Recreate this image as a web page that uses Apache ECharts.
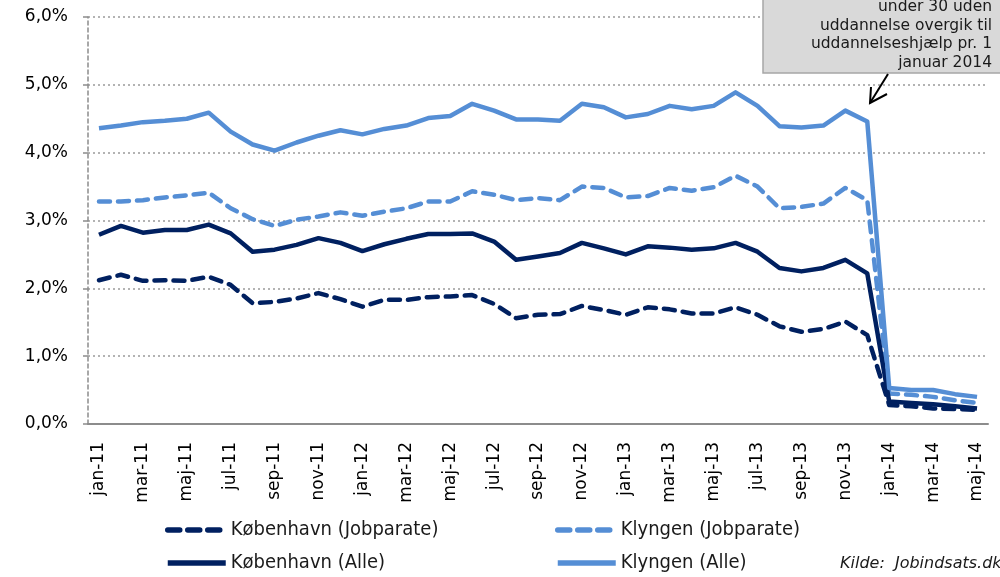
<!DOCTYPE html>
<html>
<head>
<meta charset="utf-8">
<script src="https://cdn.jsdelivr.net/npm/echarts@6/dist/echarts.min.js"></script>
<style>
  html, body { margin: 0; padding: 0; background: #fff; }
  #chart { width: 1000px; height: 577px; }
</style>
</head>
<body>
<div id="chart"></div>
<script>
const months = [
  'jan-11', 'feb-11', 'mar-11', 'apr-11', 'maj-11', 'jun-11', 'jul-11', 'aug-11', 'sep-11', 'okt-11', 'nov-11', 'dec-11',
  'jan-12', 'feb-12', 'mar-12', 'apr-12', 'maj-12', 'jun-12', 'jul-12', 'aug-12', 'sep-12', 'okt-12', 'nov-12', 'dec-12',
  'jan-13', 'feb-13', 'mar-13', 'apr-13', 'maj-13', 'jun-13', 'jul-13', 'aug-13', 'sep-13', 'okt-13', 'nov-13', 'dec-13',
  'jan-14', 'feb-14', 'mar-14', 'apr-14', 'maj-14'
]

// andel i procent
const kbhJobparate = [
  2.12, 2.20, 2.11, 2.12, 2.11, 2.17, 2.05, 1.78, 1.80, 1.85, 1.93, 1.84,
  1.73, 1.83, 1.83, 1.87, 1.88, 1.90, 1.77, 1.56, 1.61, 1.62, 1.74, 1.68,
  1.61, 1.72, 1.69, 1.63, 1.63, 1.72, 1.61, 1.44, 1.36, 1.40, 1.51, 1.31,
  0.28, 0.26, 0.23, 0.22, 0.21
]
const klyngenJobparate = [
  3.28, 3.28, 3.30, 3.34, 3.37, 3.41, 3.18, 3.02, 2.92, 3.01, 3.06, 3.12,
  3.07, 3.13, 3.18, 3.28, 3.28, 3.43, 3.38, 3.30, 3.33, 3.30, 3.50, 3.48,
  3.34, 3.36, 3.48, 3.44, 3.49, 3.66, 3.50, 3.18, 3.20, 3.25, 3.48, 3.30,
  0.45, 0.43, 0.40, 0.35, 0.31
]
const kbhAlle = [
  2.79, 2.92, 2.82, 2.86, 2.86, 2.94, 2.81, 2.54, 2.57, 2.64, 2.74, 2.67,
  2.55, 2.65, 2.73, 2.80, 2.80, 2.81, 2.69, 2.42, 2.47, 2.52, 2.67, 2.59,
  2.50, 2.62, 2.60, 2.57, 2.59, 2.67, 2.54, 2.30, 2.25, 2.30, 2.42, 2.22,
  0.33, 0.31, 0.29, 0.26, 0.23
]
const klyngenAlle = [
  4.36, 4.40, 4.45, 4.47, 4.50, 4.59, 4.31, 4.12, 4.03, 4.15, 4.25, 4.33,
  4.27, 4.35, 4.40, 4.51, 4.54, 4.72, 4.62, 4.49, 4.49, 4.47, 4.72, 4.67,
  4.52, 4.57, 4.69, 4.64, 4.69, 4.89, 4.69, 4.39, 4.37, 4.40, 4.62, 4.46,
  0.53, 0.50, 0.50, 0.44, 0.40
]

const noteLines = ['under 30 uden', 'uddannelse overgik til', 'uddannelseshjælp pr. 1', 'januar 2014']
const source = 'Kilde:  Jobindsats.dk'

const dark = '#002060'
const light = '#558ed5'
const axisGrey = '#8c8c8c'
const font = 'DejaVu Sans'
const legendFont = '"DejaVu Sans Condensed", "DejaVu Sans"'

const seriesDefs = [
  { name: 'København (Jobparate)', data: kbhJobparate, color: dark, dashed: true },
  { name: 'Klyngen (Jobparate)', data: klyngenJobparate, color: light, dashed: true },
  { name: 'København (Alle)', data: kbhAlle, color: dark, dashed: false },
  { name: 'Klyngen (Alle)', data: klyngenAlle, color: light, dashed: false }
]

const legendPos = [
  { left: 165, top: 520 },
  { left: 555, top: 520 },
  { left: 165, top: 553 },
  { left: 555, top: 553 }
]

const chart = echarts.init(document.getElementById('chart'))
chart.setOption({
  animation: false,
  backgroundColor: '#fff',
  grid: { left: 88, right: 12, top: 17, bottom: 153 },
  legend: seriesDefs.map((s, i) => ({
    data: [s.name],
    left: legendPos[i].left,
    top: legendPos[i].top,
    padding: 0,
    itemWidth: 58,
    itemHeight: 20,
    itemGap: 8,
    itemStyle: { opacity: 0 },
    lineStyle: {
      width: 5.5,
      color: s.color,
      type: s.dashed ? [12, 8] : 'solid',
      cap: s.dashed ? 'round' : 'butt'
    },
    textStyle: { fontFamily: legendFont, fontSize: 20, color: '#1a1a1a' }
  })),
  xAxis: {
    type: 'category',
    data: months,
    boundaryGap: true,
    axisLine: { lineStyle: { color: axisGrey, width: 2 } },
    axisTick: { interval: 1, length: 6, lineStyle: { color: axisGrey, width: 1.5 } },
    axisLabel: {
      interval: 1,
      rotate: 90,
      margin: 18,
      fontFamily: font,
      fontSize: 17,
      color: '#000'
    }
  },
  yAxis: {
    type: 'value',
    min: 0,
    max: 6,
    interval: 1,
    axisLine: { show: true, lineStyle: { color: axisGrey, width: 1.5, type: [4, 3] } },
    axisTick: { show: true, length: 5, lineStyle: { color: axisGrey, width: 1.5 } },
    axisLabel: {
      margin: 20,
      fontFamily: font,
      fontSize: 17,
      color: '#000',
      formatter: (v) => v.toFixed(1).replace('.', ',') + '%'
    },
    splitLine: { lineStyle: { color: '#9a9a9a', width: 1.5, type: [2, 3] } }
  },
  series: seriesDefs.map((s) => ({
    name: s.name,
    type: 'line',
    data: s.data,
    symbol: 'none',
    color: s.color,
    lineStyle: {
      color: s.color,
      width: 4.5,
      type: s.dashed ? [11, 8] : 'solid',
      cap: s.dashed ? 'round' : 'butt',
      join: 'round'
    }
  })),
  graphic: [
    {
      type: 'rect',
      shape: { x: 763, y: -80, width: 260, height: 153 },
      style: { fill: '#d9d9d9', stroke: '#a6a6a6', lineWidth: 1.5 },
      z: 10
    },
    {
      type: 'text',
      x: 992,
      y: 72,
      style: {
        text: noteLines.join('\n'),
        align: 'right',
        verticalAlign: 'bottom',
        fontFamily: font,
        fontSize: 15.5,
        lineHeight: 18.5,
        fill: '#1a1a1a'
      },
      z: 11
    },
    {
      type: 'line',
      shape: { x1: 888, y1: 74, x2: 870, y2: 103 },
      style: { stroke: '#000', lineWidth: 2 },
      z: 11
    },
    {
      type: 'polyline',
      shape: { points: [[871, 87], [870, 103], [887, 94]] },
      style: { stroke: '#000', lineWidth: 2, fill: null },
      z: 11
    },
    {
      type: 'text',
      x: 840,
      y: 564,
      style: {
        text: source,
        verticalAlign: 'middle',
        fontFamily: font,
        fontStyle: 'italic',
        fontSize: 16,
        fill: '#1a1a1a'
      }
    }
  ]
})
</script>
</body>
</html>
